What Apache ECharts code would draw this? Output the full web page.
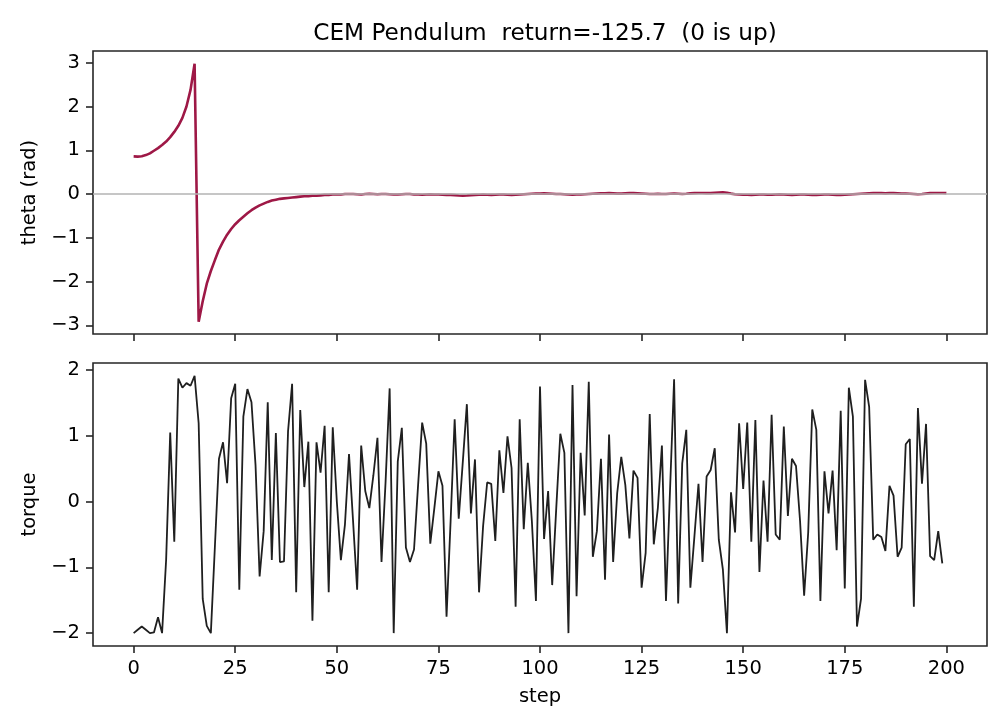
<!DOCTYPE html>
<html>
<head>
<meta charset="utf-8">
<script src="https://cdn.jsdelivr.net/npm/echarts@6/dist/echarts.min.js"></script>
<style>
html,body{margin:0;padding:0;background:#fff;}
#chart{width:1008px;height:728px;}
</style>
</head>
<body>
<div id="chart"></div>
<script>
// ---- data ----
var titleText = 'CEM Pendulum  return=-125.7  (0 is up)';
var stepTicks = [0, 25, 50, 75, 100, 125, 150, 175, 200];
var thetaTicks = [-3, -2, -1, 0, 1, 2, 3];
var torqueTicks = [-2, -1, 0, 1, 2];

var theta = [
  0.86, 0.855, 0.865, 0.89, 0.93, 0.99, 1.05, 1.12, 1.20, 1.30, 1.42, 1.56, 1.74, 2.00, 2.38, 2.98,
  -2.92, -2.45, -2.05, -1.76, -1.51, -1.27, -1.09, -0.93, -0.80, -0.69,
  -0.60, -0.52, -0.44, -0.37, -0.31, -0.26, -0.22, -0.18, -0.15, -0.13,
  -0.11, -0.10, -0.09, -0.08, -0.07, -0.06, -0.05, -0.05, -0.04, -0.04,
  -0.03, -0.02, -0.02, -0.01,
  -0.01, -0.01, 0.0, 0.0, 0.0, -0.005, -0.01,
  0.0, 0.005, 0.0, -0.005, 0.0, 0.0, -0.005, -0.01, -0.01, -0.005, 0.0, 0.0,
  -0.01, -0.01, -0.015, -0.01, -0.005, -0.01, -0.01, -0.015, -0.02, -0.02, -0.025,
  -0.035, -0.04, -0.035, -0.025,
  -0.02, -0.015, -0.01, -0.015, -0.02, -0.015, -0.01, -0.01, -0.015, -0.02, -0.015, -0.01, -0.005, 0.0, 0.005,
  0.01, 0.01, 0.015, 0.01, 0.005, 0.0, 0.0, -0.005,
  -0.01, -0.015, -0.01, -0.01, -0.005, 0.0, 0.005, 0.01,
  0.015, 0.015, 0.02, 0.015, 0.01, 0.01, 0.015, 0.02, 0.02, 0.015, 0.01, 0.005, 0.0, 0.0, 0.005, 0.0,
  0.0, 0.005, 0.01, 0.005, 0.0, 0.005,
  0.015, 0.02, 0.025, 0.025, 0.02, 0.02, 0.03, 0.035, 0.04, 0.03, 0.01, -0.005,
  -0.01, -0.015, -0.015, -0.02, -0.015, -0.01, -0.01, -0.015, -0.015, -0.01,
  -0.005, -0.01, -0.015, -0.02, -0.015, -0.01, -0.01, -0.015, -0.02, -0.02,
  -0.015, -0.01, -0.01, -0.015, -0.02, -0.02, -0.015, -0.01, -0.005, 0.0,
  0.005, 0.01, 0.015, 0.02, 0.02, 0.02, 0.015, 0.02, 0.02, 0.015, 0.01, 0.01, 0.005,
  0.0, -0.005, 0.0, 0.01, 0.02, 0.025, 0.025, 0.025, 0.02
];

var torque = [
  -2.0, -1.95, -1.90, -1.95, -2.0, -1.99, -1.76, -2.0, -0.88, 1.05,
  -0.61, 1.87, 1.73, 1.80, 1.76, 1.91, 1.19, -1.48, -1.89, -2.0,
  -0.68, 0.65, 0.90, 0.28, 1.57, 1.79, -1.34, 1.29, 1.71, 1.51,
  0.55, -1.14, -0.45, 1.51, -0.89, 1.04, -0.92, -0.91, 1.07, 1.79,
  -1.38, 1.39, 0.22, 0.91, -1.81, 0.90, 0.44, 1.15, -1.38, 1.13,
  0.0, -0.89, -0.35, 0.72, -0.30, -1.34, 0.85, 0.16, -0.10, 0.40,
  0.97, -0.92, 0.30, 1.72, -2.0, 0.61, 1.12, -0.70, -0.92, -0.73,
  0.25, 1.20, 0.88, -0.64, -0.10, 0.46, 0.24, -1.75, -0.30, 1.25,
  -0.26, 0.60, 1.48, -0.18, 0.64, -1.38, -0.37, 0.29, 0.27, -0.60,
  0.78, 0.13, 0.99, 0.51, -1.60, 1.25, -0.42, 0.59, -0.30, -1.51,
  1.75, -0.57, 0.16, -1.27, -0.10, 1.03, 0.74, -2.0, 1.77, -1.44,
  0.74, -0.21, 1.82, -0.84, -0.45, 0.65, -1.19, 1.02, -0.92, 0.13,
  0.68, 0.25, -0.56, 0.47, 0.36, -1.31, -0.78, 1.33, -0.65, -0.10,
  0.85, -1.51, 0.18, 1.86, -1.55, 0.58, 1.09, -1.31, -0.53, 0.27,
  -0.92, 0.38, 0.48, 0.81, -0.58, -1.03, -2.0, 0.14, -0.47, 1.19,
  0.19, 1.20, -0.61, 1.24, -1.07, 0.32, -0.61, 1.32, -0.50, -0.58,
  1.14, -0.22, 0.65, 0.54, -0.30, -1.43, -0.47, 1.40, 1.09, -1.51,
  0.46, -0.18, 0.47, -0.74, 1.38, -1.32, 1.73, 1.29, -1.90, -1.48,
  1.85, 1.44, -0.58, -0.50, -0.54, -0.75, 0.24, 0.09, -0.84, -0.70,
  0.87, 0.95, -1.60, 1.42, 0.27, 1.18, -0.83, -0.89, -0.45, -0.94
];

// ---- chart ----
var FONT = 'DejaVu Sans';
var FS = 19.5;
var INK = '#262626';
function fmt(v) { return String(v).replace('-', '\u2212'); }

var thetaData = theta.map(function (v, i) { return [i, v]; });
var torqueData = torque.map(function (v, i) { return [i, v]; });

function xAxis(gridIndex, showLabels) {
  return {
    type: 'value', gridIndex: gridIndex, min: -10, max: 210,
    axisLine: { show: false, onZero: false },
    axisTick: { show: true, inside: false, length: 7, customValues: stepTicks,
      lineStyle: { color: INK, width: 1.6 } },
    axisLabel: { show: showLabels, customValues: stepTicks, margin: 13,
      fontFamily: FONT, fontSize: FS, color: '#000', formatter: fmt },
    splitLine: { show: false },
    name: showLabels ? 'step' : '', nameLocation: 'middle', nameGap: 41,
    nameTextStyle: { fontFamily: FONT, fontSize: FS, color: '#000' }
  };
}
function yAxis(gridIndex, min, max, ticks, name) {
  return {
    type: 'value', gridIndex: gridIndex, min: min, max: max,
    axisLine: { show: false, onZero: false },
    axisTick: { show: true, inside: false, length: 7, customValues: ticks,
      lineStyle: { color: INK, width: 1.6 } },
    axisLabel: { show: true, customValues: ticks, margin: 13,
      fontFamily: FONT, fontSize: FS, color: '#000', formatter: fmt },
    splitLine: { show: false },
    name: name, nameLocation: 'middle', nameRotate: 90, nameGap: 48,
    nameTextStyle: { fontFamily: FONT, fontSize: FS, color: '#000' }
  };
}

var chart = echarts.init(document.getElementById('chart'), null, { renderer: 'canvas' });
chart.setOption({
  animation: false,
  backgroundColor: '#ffffff',
  title: {
    text: titleText, left: 540, top: 17, textAlign: 'center',
    textStyle: { fontFamily: FONT, fontSize: 23.2, fontWeight: 'normal', color: '#000' }
  },
  grid: [
    { left: 93, top: 51, width: 894, height: 283, show: true, borderColor: INK, borderWidth: 1.6, backgroundColor: 'transparent' },
    { left: 93, top: 363, width: 894, height: 283, show: true, borderColor: INK, borderWidth: 1.6, backgroundColor: 'transparent' }
  ],
  xAxis: [xAxis(0, false), xAxis(1, true)],
  yAxis: [
    yAxis(0, -3.2, 3.27, thetaTicks, 'theta (rad)'),
    yAxis(1, -2.196, 2.106, torqueTicks, 'torque')
  ],
  series: [
    {
      type: 'line', xAxisIndex: 0, yAxisIndex: 0, data: [], z: 1, silent: true,
      markLine: {
        silent: true, symbol: ['none', 'none'], label: { show: false },
        lineStyle: { color: '#b3b3b3', width: 1.6, type: 'solid' },
        data: [{ yAxis: 0 }]
      }
    },
    {
      name: 'theta', type: 'line', xAxisIndex: 0, yAxisIndex: 0, data: thetaData, z: 3,
      showSymbol: false, symbol: 'none',
      lineStyle: { color: '#9e1846', width: 2.6 }
    },
    {
      name: 'torque', type: 'line', xAxisIndex: 1, yAxisIndex: 1, data: torqueData, z: 3,
      showSymbol: false, symbol: 'none',
      lineStyle: { color: '#1f1f1f', width: 1.8 }
    }
  ]
});
</script>
</body>
</html>
